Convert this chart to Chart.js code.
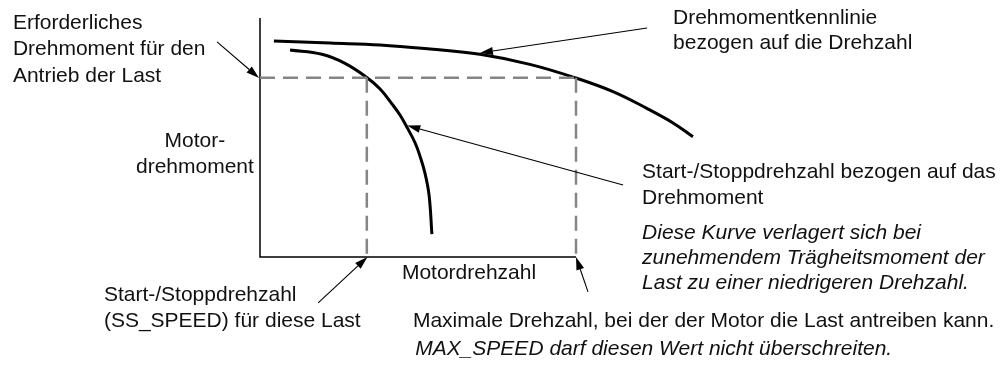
<!DOCTYPE html>
<html>
<head>
<meta charset="utf-8">
<script src="https://cdn.jsdelivr.net/npm/chart.js@4.4.1/dist/chart.umd.min.js"></script>
<style>
  html, body { margin: 0; padding: 0; background: #fff; }
  #wrap { width: 1007px; height: 369px; }
</style>
</head>
<body>
<div id="wrap"><canvas id="chart" width="1007" height="369"></canvas></div>
<script>
// speed axis: 0 .. 100 (100 = max speed), torque axis: 0 .. 100
const speedAxisEnd = 100;
const torqueAxisEnd = 100;
const requiredTorque = 75;
const ssSpeed = 33.8;
const maxSpeed = 100;

// torque curve vs speed (outer curve)
const torqueCurveSpeed  = [4.4, 22.2, 38.0, 53.8, 69.6, 85.4, 100.2, 111.7, 122.4, 130.7, 137.0];
const torqueCurveTorque = [90.4, 89.5, 88.7, 87.0, 84.8, 80.6, 74.8, 69.2, 62.2, 56.1, 50.3];

// start/stop speed vs torque (inner curve)
const ssCurveSpeed  = [9.5, 19.6, 26.9, 33.8, 38.0, 41.8, 44.3, 46.8, 49.1, 50.6, 52.2, 53.5, 54.4];
const ssCurveTorque = [86.6, 84.8, 81.0, 75.1, 70.3, 64.0, 59.4, 53.6, 47.7, 42.3, 35.1, 25.9, 9.6];

// annotations (anchor in data units)
const labels = [
  { x: -78.2, y: 95.4, align: 'left', lh: 26.5, italic: false,
    lines: ['Erforderliches', 'Drehmoment für den', 'Antrieb der Last'] },
  { x: -20.6, y: 46.0, align: 'center', lh: 26, italic: false,
    lines: ['Motor-', 'drehmoment'] },
  { x: 130.7, y: 97.5, align: 'left', lh: 25.5, italic: false,
    lines: ['Drehmomentkennlinie', 'bezogen auf die Drehzahl'] },
  { x: 120.9, y: 33.1, align: 'left', lh: 26, italic: false,
    lines: ['Start-/Stoppdrehzahl bezogen auf das', 'Drehmoment'] },
  { x: 120.9, y: 7.6, align: 'left', lh: 25, italic: true,
    lines: ['Diese Kurve verlagert sich bei', 'zunehmendem Trägheitsmoment der', 'Last zu einer niedrigeren Drehzahl.'] },
  { x: 44.9, y: -9.2, align: 'left', lh: 26, italic: false,
    lines: ['Motordrehzahl'] },
  { x: -49.4, y: -18.2, align: 'left', lh: 26, italic: false,
    lines: ['Start-/Stoppdrehzahl', '(SS_SPEED) für diese Last'] },
  { x: 48.4, y: -29.3, align: 'left', lh: 26, italic: false,
    lines: ['Maximale Drehzahl, bei der der Motor die Last antreiben kann.'] },
  { x: 49.1, y: -41.0, align: 'left', lh: 26, italic: true,
    lines: ['MAX_SPEED darf diesen Wert nicht überschreiten.'] }
];

// arrows: from (tail) -> to (tip), data units
const arrows = [
  { from: [-13.6, 90], to: [-0.3, 74.9] },
  { from: [122.5, 95.8], to: [69.6, 85.4] },
  { from: [114.9, 30.1], to: [46.6, 55.0] },
  { from: [18.4, -19.2], to: [34, 0] },
  { from: [103.8, -14.6], to: [100, 0] }
];

function pts(xs, ys) {
  return xs.map((x, i) => ({ x: x, y: ys[i] }));
}

const annotationPlugin = {
  id: 'annotations',
  afterDatasetsDraw(chart) {
    const ctx = chart.ctx;
    const xs = chart.scales.x, ys = chart.scales.y;
    ctx.save();
    // arrows
    ctx.strokeStyle = '#000';
    ctx.fillStyle = '#000';
    ctx.lineWidth = 1.1;
    arrows.forEach(a => {
      const x1 = xs.getPixelForValue(a.from[0]), y1 = ys.getPixelForValue(a.from[1]);
      const x2 = xs.getPixelForValue(a.to[0]), y2 = ys.getPixelForValue(a.to[1]);
      const ang = Math.atan2(y2 - y1, x2 - x1);
      const len = 13, half = 4;
      const bx = x2 - len * Math.cos(ang), by = y2 - len * Math.sin(ang);
      ctx.beginPath();
      ctx.moveTo(x1, y1);
      ctx.lineTo(bx, by);
      ctx.stroke();
      ctx.beginPath();
      ctx.moveTo(x2, y2);
      ctx.lineTo(bx + half * Math.sin(ang), by - half * Math.cos(ang));
      ctx.lineTo(bx - half * Math.sin(ang), by + half * Math.cos(ang));
      ctx.closePath();
      ctx.fill();
    });
    // texts
    ctx.textBaseline = 'alphabetic';
    ctx.fillStyle = '#111';
    labels.forEach(l => {
      ctx.font = (l.italic ? 'italic ' : '') + '21px "Liberation Sans", Arial, sans-serif';
      ctx.textAlign = l.align;
      const px = xs.getPixelForValue(l.x), py = ys.getPixelForValue(l.y);
      l.lines.forEach((t, i) => ctx.fillText(t, px, py + i * l.lh));
    });
    ctx.restore();
  }
};

const dashed = {
  borderColor: '#858585',
  borderWidth: 2.5,
  borderDash: [15, 8],
  pointRadius: 0,
  showLine: true,
  fill: false
};

new Chart(document.getElementById('chart'), {
  type: 'scatter',
  data: {
    datasets: [
      Object.assign({ data: [{ x: 0, y: requiredTorque }, { x: maxSpeed, y: requiredTorque }] }, dashed),
      Object.assign({ data: [{ x: ssSpeed, y: requiredTorque }, { x: ssSpeed, y: 0 }] }, dashed),
      Object.assign({ data: [{ x: maxSpeed, y: requiredTorque }, { x: maxSpeed, y: 0 }] }, dashed),
      {
        data: [{ x: 0, y: torqueAxisEnd }, { x: 0, y: 0 }, { x: speedAxisEnd, y: 0 }],
        borderColor: '#000', borderWidth: 1.5, pointRadius: 0, showLine: true, tension: 0
      },
      {
        data: pts(torqueCurveSpeed, torqueCurveTorque),
        borderColor: '#000', borderWidth: 3, pointRadius: 0, showLine: true,
        tension: 0.4
      },
      {
        data: pts(ssCurveSpeed, ssCurveTorque),
        borderColor: '#000', borderWidth: 3, pointRadius: 0, showLine: true,
        tension: 0.4
      }
    ]
  },
  options: {
    responsive: false,
    animation: false,
    devicePixelRatio: 1,
    layout: { padding: 0 },
    plugins: { legend: { display: false }, tooltip: { enabled: false }, title: { display: false } },
    scales: {
      x: { type: 'linear', display: false, min: -82.28, max: 236.39 },
      y: { type: 'linear', display: false, min: -46.86, max: 107.53 }
    }
  },
  plugins: [annotationPlugin]
});
</script>
</body>
</html>
